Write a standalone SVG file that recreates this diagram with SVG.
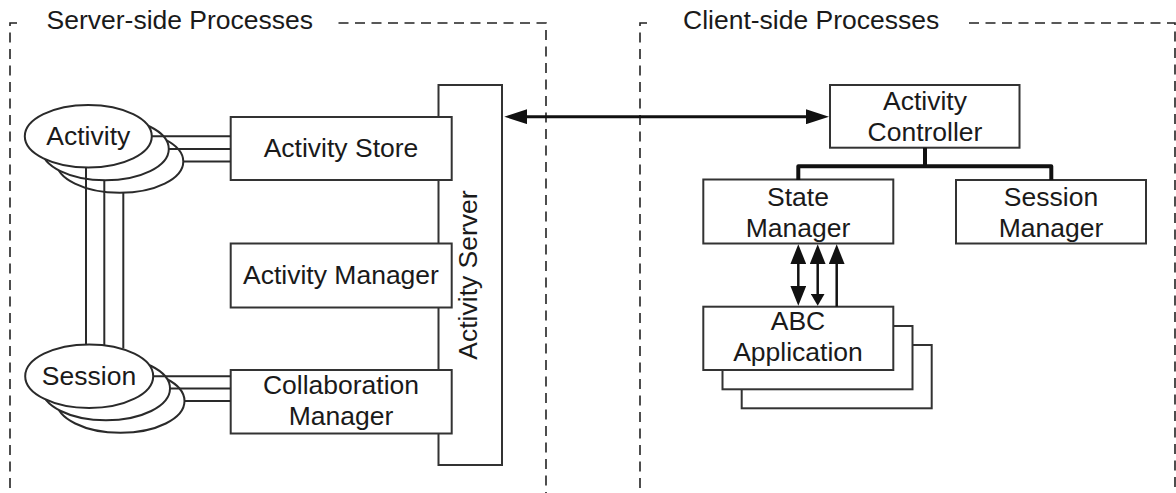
<svg xmlns="http://www.w3.org/2000/svg" width="1176" height="493" viewBox="0 0 1176 493">
  <style>
    text { font-family: "Liberation Sans", Arial, Helvetica, sans-serif; font-size: 26.5px; fill: #1a1a1a; }
    .c { text-anchor: middle; }
    .box { fill: #ffffff; stroke: #333333; stroke-width: 2; }
    .ell { fill: #ffffff; stroke: #2a2a2a; stroke-width: 2; }
    .region { fill: none; stroke: #222222; stroke-width: 1.6; stroke-dasharray: 10 6.5; }
    .link { fill: none; stroke: #2a2a2a; stroke-width: 2; }
    .bus { fill: none; stroke: #111111; stroke-width: 4; stroke-linejoin: round; }
    .msg { fill: none; stroke: #111111; stroke-width: 3; }
    .call { fill: none; stroke: #111111; stroke-width: 2.5; }
  </style>
  <defs>
    <marker id="bigHead" viewBox="0 0 23 15" refX="1" refY="7.5" markerWidth="23" markerHeight="15" markerUnits="userSpaceOnUse" orient="auto-start-reverse">
      <path d="M0,0 L23,7.5 L0,15 Z" fill="#111111"/>
    </marker>
    <marker id="head" viewBox="0 0 20 16" refX="1" refY="8" markerWidth="20" markerHeight="16" markerUnits="userSpaceOnUse" orient="auto-start-reverse">
      <path d="M0,0 L20,8 L0,16 Z" fill="#111111"/>
    </marker>
    <marker id="smallHead" viewBox="0 0 12 14" refX="1" refY="7" markerWidth="12" markerHeight="14" markerUnits="userSpaceOnUse" orient="auto">
      <path d="M0,0 L12,7 L0,14 Z" fill="#111111"/>
    </marker>
  </defs>

  <!-- process boundaries -->
  <g id="server-region">
    <path class="region" d="M17,23 H10 V493"/>
    <path class="region" d="M338.5,23 H546 V493"/>
    <text x="46.5" y="29">Server-side Processes</text>
  </g>
  <g id="client-region">
    <path class="region" d="M647,23 H640 V493"/>
    <path class="region" d="M969,23 H1175 V493"/>
    <text x="683" y="29">Client-side Processes</text>
  </g>

  <!-- server side -->
  <g id="activity-server">
    <rect class="box" x="438.5" y="85" width="63.5" height="380"/>
    <text class="c" transform="translate(477,275) rotate(-90)">Activity Server</text>
  </g>

  <g id="activity">
    <ellipse class="ell" cx="119.8" cy="161.5" rx="63.5" ry="31.3"/>
    <ellipse class="ell" cx="105.3" cy="148.9" rx="63.5" ry="31.3"/>
    <ellipse class="ell" cx="88.3" cy="136.2" rx="63.5" ry="31.3"/>
    <text class="c" x="88.3" y="145">Activity</text>
  </g>

  <g id="session">
    <ellipse class="ell" cx="120.5" cy="401" rx="64" ry="31.8"/>
    <ellipse class="ell" cx="106" cy="388.5" rx="64" ry="31.8"/>
    <ellipse class="ell" cx="89.2" cy="376.2" rx="64" ry="31.8"/>
    <text class="c" x="89" y="385">Session</text>
  </g>

  <g id="activity-store">
    <rect class="box" x="230.7" y="117" width="221" height="63"/>
    <text class="c" x="341" y="157">Activity Store</text>
  </g>

  <g id="activity-manager">
    <rect class="box" x="230.7" y="243.5" width="221" height="64"/>
    <text class="c" x="341" y="284">Activity Manager</text>
  </g>

  <g id="collaboration-manager">
    <rect class="box" x="230.7" y="370" width="221" height="63.5"/>
    <text class="c" x="341" y="393.5">Collaboration</text>
    <text class="c" x="341" y="425">Manager</text>
  </g>

  <!-- client side -->
  <g id="activity-controller">
    <rect class="box" x="830" y="85" width="189.5" height="62.7"/>
    <text class="c" x="925" y="110">Activity</text>
    <text class="c" x="925" y="141">Controller</text>
  </g>

  <g id="state-manager">
    <rect class="box" x="703.3" y="179.5" width="190" height="64"/>
    <text class="c" x="798" y="206">State</text>
    <text class="c" x="798" y="237">Manager</text>
  </g>

  <g id="session-manager">
    <rect class="box" x="956" y="180" width="190" height="63.5"/>
    <text class="c" x="1051" y="206">Session</text>
    <text class="c" x="1051" y="237">Manager</text>
  </g>

  <g id="abc-application">
    <rect class="box" x="741.7" y="345" width="190" height="63.3"/>
    <rect class="box" x="722.5" y="326" width="190" height="63.3"/>
    <rect class="box" x="703.3" y="306.7" width="190" height="63.3"/>
    <text class="c" x="798" y="330">ABC</text>
    <text class="c" x="798" y="361">Application</text>
  </g>

  <!-- connectors -->
  <g id="connectors">
    <!-- activity instances to the store -->
    <line class="link" x1="151.8" y1="136.2" x2="230.7" y2="136.2"/>
    <line class="link" x1="168.8" y1="148.9" x2="230.7" y2="148.9"/>
    <line class="link" x1="183.3" y1="161.5" x2="230.7" y2="161.5"/>
    <!-- sessions to the collaboration manager -->
    <line class="link" x1="153.2" y1="376.2" x2="230.7" y2="376.2"/>
    <line class="link" x1="170" y1="388.5" x2="230.7" y2="388.5"/>
    <line class="link" x1="184.5" y1="401" x2="230.7" y2="401"/>
    <!-- activity instances to sessions -->
    <line class="link" x1="86" y1="167.5" x2="86" y2="344.4"/>
    <line class="link" x1="104.3" y1="180.2" x2="104.3" y2="345.3"/>
    <line class="link" x1="123.3" y1="192.8" x2="123.3" y2="348.5"/>

    <!-- server <-> controller -->
    <line class="msg" x1="526.3" y1="116.7" x2="807" y2="116.7" marker-start="url(#bigHead)" marker-end="url(#bigHead)"/>

    <!-- controller to its managers -->
    <path class="bus" d="M925,147.7 V166.3 M798.3,180 V166.3 H1051.3 V180"/>

    <!-- state manager <-> applications -->
    <line class="call" x1="798.3" y1="263.3" x2="798.3" y2="286.7" marker-start="url(#head)" marker-end="url(#head)"/>
    <line class="call" x1="817.7" y1="263.3" x2="817.7" y2="294.7" marker-start="url(#head)" marker-end="url(#smallHead)"/>
    <line class="call" x1="836.7" y1="263.3" x2="836.7" y2="306.7" marker-start="url(#head)"/>
  </g>
</svg>
